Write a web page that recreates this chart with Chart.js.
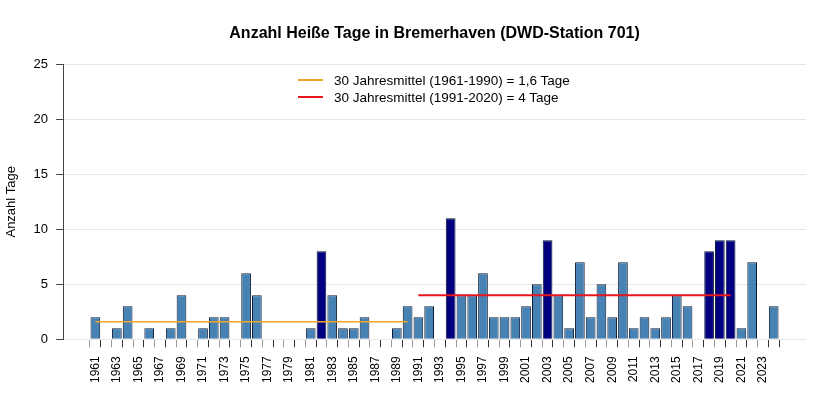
<!DOCTYPE html>
<html>
<head>
<meta charset="utf-8">
<script src="https://cdn.jsdelivr.net/npm/chart.js@4.4.1/dist/chart.umd.min.js"></script>
<style>
  html, body { margin: 0; padding: 0; background: #fff; }
  #wrap { position: relative; width: 840px; height: 420px; }
  #legend {
    position: absolute; left: 298px; top: 73px;
    font: 13.5px "Liberation Sans", Arial, sans-serif; color: #000;
  }
  #legend div { height: 16.5px; line-height: 16.5px; white-space: nowrap; }
  #legend span.swatch {
    display: inline-block; width: 25px; height: 2px; vertical-align: middle;
    margin-right: 11px; position: relative; top: -1px;
  }
</style>
</head>
<body>
<div id="wrap">
  <canvas id="chart" width="840" height="420"></canvas>
  <div id="legend"></div>
</div>
<script>
// Data
const years = [];
for (let y = 1961; y <= 2024; y++) years.push(y);

const hotDays = [
  2, 0, 1, 3, 0, 1, 0, 1, 4, 0,   // 1961-1970
  1, 2, 2, 0, 6, 4, 0, 0, 0, 0,   // 1971-1980
  1, 8, 4, 1, 1, 2, 0, 0, 1, 3,   // 1981-1990
  2, 3, 0, 11, 4, 4, 6, 2, 2, 2,  // 1991-2000
  3, 5, 9, 4, 1, 7, 2, 5, 2, 7,   // 2001-2010
  1, 2, 1, 2, 4, 3, 0, 8, 9, 9,   // 2011-2020
  1, 7, 0, 3                      // 2021-2024
];

const meanPeriods = ["1961-1990", "1991-2020"];
const meanStart = [1961, 1991];
const meanEnd = [1990, 2020];
const meanValues = [1.6, 4];
const meanLabels = [
  "30 Jahresmittel (1961-1990) = 1,6 Tage",
  "30 Jahresmittel (1991-2020) = 4 Tage"
];
const meanColors = ["#f0a526", "#e8161c"];
const meanWidths = [1.5, 2];

const yTicks = [0, 5, 10, 15, 20, 25];
const hotThreshold = 8;   // years drawn in dark blue

const FONT = "'Liberation Sans', Arial, sans-serif";

const barData = years.map((y, i) => ({ x: y, y: hotDays[i] }));

const datasets = [
  {
    type: "bar",
    label: "Heiße Tage",
    data: barData,
    backgroundColor: (ctx) => (ctx.parsed && ctx.parsed.y >= hotThreshold ? "#000080" : "#4682b4"),
    borderColor: "#0a1a33",
    borderWidth: (ctx) => (ctx.parsed && ctx.parsed.y === 0 ? 0 : 1),
    borderSkipped: "bottom",
    barPercentage: 0.9,
    categoryPercentage: 1.0,
    order: 2,
  },
];

meanPeriods.forEach((p, i) => {
  datasets.push({
    type: "line",
    label: meanLabels[i],
    data: [
      { x: meanStart[i], y: meanValues[i] },
      { x: meanEnd[i], y: meanValues[i] },
    ],
    borderColor: meanColors[i],
    borderWidth: meanWidths[i],
    pointRadius: 0,
    fill: false,
    order: 0,
  });
});

// HTML legend
const legendEl = document.getElementById("legend");
meanLabels.forEach((label, i) => {
  const row = document.createElement("div");
  const sw = document.createElement("span");
  sw.className = "swatch";
  sw.style.background = meanColors[i];
  row.appendChild(sw);
  row.appendChild(document.createTextNode(label));
  legendEl.appendChild(row);
});

new Chart(document.getElementById("chart"), {
  data: { datasets },
  options: {
    responsive: false,
    animation: false,
    layout: { padding: { left: 2, right: 34, top: 0, bottom: 28 } },
    plugins: {
      legend: { display: false },
      tooltip: { enabled: false },
      title: {
        display: true,
        text: "Anzahl Heiße Tage in Bremerhaven (DWD-Station 701)",
        color: "#000",
        fullSize: false,
        font: { family: FONT, size: 16, weight: "bold" },
        padding: { top: 24, bottom: 21 },
      },
    },
    scales: {
      x: {
        type: "linear",
        min: 1958,
        max: 2027,
        offset: false,
        afterBuildTicks: (scale) => {
          scale.ticks = years.map((y) => ({ value: y }));
        },
        ticks: {
          autoSkip: false,
          minRotation: 90,
          maxRotation: 90,
          padding: 9,
          color: "#000",
          font: { family: FONT, size: 12 },
          callback: (v) => (v % 2 === 1 ? String(v) : ""),
        },
        grid: {
          drawOnChartArea: false,
          drawTicks: true,
          tickLength: 8,
          tickColor: (ctx) => (ctx.tick && ctx.tick.value % 2 === 1 ? "#9a9a9a" : "#333"),
        },
        border: { display: false },
      },
      y: {
        min: 0,
        max: 25,
        afterBuildTicks: (scale) => {
          scale.ticks = yTicks.map((v) => ({ value: v }));
        },
        ticks: {
          padding: 8,
          color: "#000",
          font: { family: FONT, size: 13 },
        },
        grid: {
          color: "#e6e6e6",
          tickColor: "#444",
          tickLength: 7,
        },
        border: { display: true, color: "#444", width: 1 },
        title: {
          display: true,
          text: "Anzahl Tage",
          color: "#000",
          font: { family: FONT, size: 13 },
          padding: { top: 2, bottom: 6 },
        },
      },
    },
  },
});
</script>
</body>
</html>
